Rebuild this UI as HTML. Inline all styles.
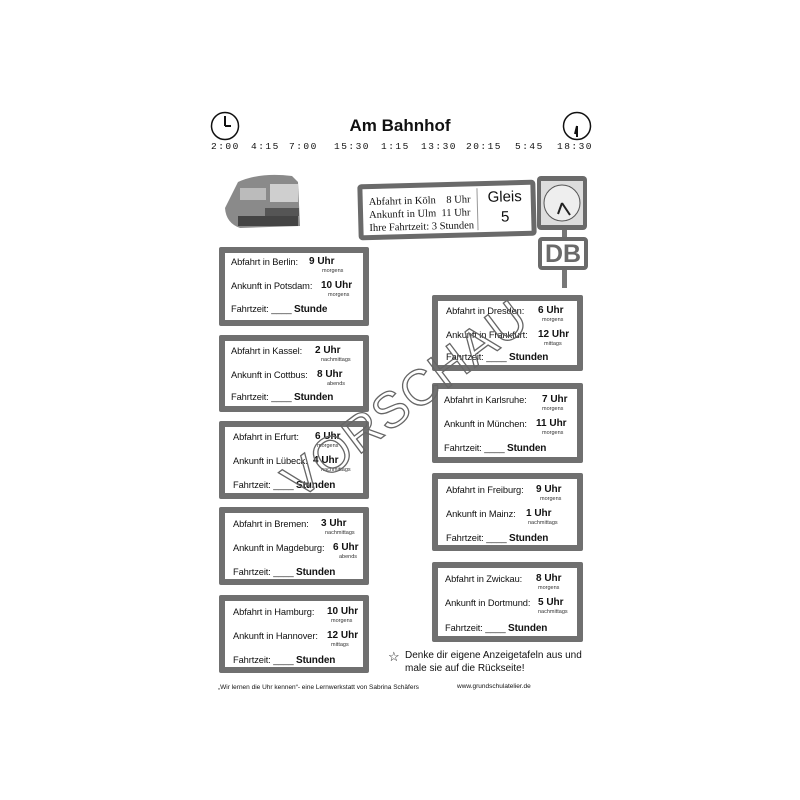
<!DOCTYPE html>
<html><head><meta charset="utf-8"><style>
body{margin:0;width:800px;height:800px;background:#fff;position:relative;overflow:hidden;font-family:"Liberation Sans",sans-serif;color:#111}
.a{position:absolute}
.box{position:absolute;border:6px solid #707070;background:#fff;box-sizing:border-box;border-radius:2px}
.box span{position:absolute;font-size:9.3px;white-space:nowrap;letter-spacing:-0.1px}
.box b{position:absolute;font-size:10px;white-space:nowrap}
.box i{position:absolute;font-size:5.5px;font-style:normal;white-space:nowrap;color:#333}
.t{position:absolute;font-size:9.5px;letter-spacing:1.5px;font-family:"Liberation Mono",monospace}
</style></head><body>

<div class="a" style="left:0;top:116px;width:800px;text-align:center;font-size:17px;font-weight:bold">Am Bahnhof</div>

<svg class="a" style="left:209px;top:110px" width="32" height="32"><circle cx="16" cy="16" r="13.5" fill="#fff" stroke="#111" stroke-width="1.5"/><line x1="16" y1="16" x2="16" y2="6" stroke="#111" stroke-width="2"/><line x1="16" y1="16" x2="22" y2="16" stroke="#111" stroke-width="2"/></svg>
<svg class="a" style="left:561px;top:110px" width="32" height="32"><circle cx="16" cy="16" r="13.5" fill="#fff" stroke="#111" stroke-width="1.5"/><line x1="16" y1="16" x2="16" y2="27" stroke="#111" stroke-width="2"/><line x1="16" y1="16" x2="14" y2="24" stroke="#111" stroke-width="2"/></svg>

<div class="t" style="left:211px;top:141px">2:00</div>
<div class="t" style="left:251px;top:141px">4:15</div>
<div class="t" style="left:289px;top:141px">7:00</div>
<div class="t" style="left:334px;top:141px">15:30</div>
<div class="t" style="left:381px;top:141px">1:15</div>
<div class="t" style="left:421px;top:141px">13:30</div>
<div class="t" style="left:466px;top:141px">20:15</div>
<div class="t" style="left:515px;top:141px">5:45</div>
<div class="t" style="left:557px;top:141px">18:30</div>

<!-- train -->
<svg class="a" style="left:220px;top:168px" width="85" height="65"><path d="M5 40 L18 14 Q40 4 72 8 L78 14 L80 58 L20 60 Q6 55 5 40Z" fill="#8a8a8a"/><rect x="50" y="16" width="28" height="18" fill="#cfcfcf"/><rect x="20" y="20" width="26" height="12" fill="#bbb"/><rect x="45" y="40" width="34" height="8" fill="#555"/><rect x="18" y="48" width="60" height="10" fill="#444"/></svg>

<!-- Gleis sign -->
<div class="a" style="left:358px;top:182px;width:178px;height:56px;background:#6a6a6a;border-radius:4px;transform:rotate(-1.5deg)">
 <div class="a" style="left:5px;top:5px;width:168px;height:46px;background:#fff;font-family:'Liberation Serif',serif;font-size:10.5px;line-height:13px">
  <div class="a" style="left:6px;top:7px;white-space:nowrap">Abfahrt in Köln&nbsp;&nbsp;&nbsp;&nbsp;8 Uhr<br>Ankunft in Ulm&nbsp;&nbsp;11 Uhr<br>Ihre Fahrtzeit: 3 Stunden</div>
  <div class="a" style="left:114px;top:2px;width:1px;height:42px;background:#999"></div>
  <div class="a" style="left:118px;top:2px;width:48px;text-align:center;font-family:'Liberation Sans',sans-serif;font-size:15px;line-height:20px">Gleis<br>5</div>
 </div>
</div>
<!-- clock -->
<div class="a" style="left:562px;top:228px;width:5px;height:60px;background:#777"></div>
<div class="a" style="left:537px;top:176px;width:50px;height:54px;background:#6a6a6a;border-radius:4px"></div>
<svg class="a" style="left:540px;top:180px" width="44" height="46"><rect x="1" y="1" width="42" height="44" fill="#ddd"/><circle cx="22" cy="23" r="18" fill="#eee" stroke="#555"/><line x1="22" y1="23" x2="18" y2="34" stroke="#222" stroke-width="2"/><line x1="22" y1="23" x2="30" y2="35" stroke="#222" stroke-width="2"/></svg>
<div class="a" style="left:538px;top:237px;width:50px;height:33px;background:#fff;border:4px solid #6a6a6a;box-sizing:border-box;border-radius:4px;text-align:center;font-weight:bold;font-size:25px;line-height:26px;color:#6a6a6a">DB</div>

<!-- left boxes -->
<div class="box" style="left:219px;top:247px;width:150px;height:79px"><span style="left:6px;top:4px">Abfahrt in Berlin:</span><b style="left:84px;top:3px">9 Uhr</b><i style="left:97px;top:15px">morgens</i><span style="left:6px;top:28px">Ankunft in Potsdam:</span><b style="left:96px;top:27px">10 Uhr</b><i style="left:103px;top:39px">morgens</i><span style="left:6px;top:51px">Fahrtzeit: ____ <b style="position:static">Stunde</b></span></div>
<div class="box" style="left:219px;top:335px;width:150px;height:77px"><span style="left:6px;top:5px">Abfahrt in Kassel:</span><b style="left:90px;top:4px">2 Uhr</b><i style="left:96px;top:16px">nachmittags</i><span style="left:6px;top:29px">Ankunft in Cottbus:</span><b style="left:92px;top:28px">8 Uhr</b><i style="left:102px;top:40px">abends</i><span style="left:6px;top:51px">Fahrtzeit: ____ <b style="position:static">Stunden</b></span></div>
<div class="box" style="left:219px;top:421px;width:150px;height:78px"><span style="left:8px;top:5px">Abfahrt in Erfurt:</span><b style="left:90px;top:4px">6 Uhr</b><i style="left:92px;top:16px">morgens</i><span style="left:8px;top:29px">Ankunft in Lübeck:</span><b style="left:88px;top:28px">4 Uhr</b><i style="left:96px;top:40px">nachmittags</i><span style="left:8px;top:53px">Fahrtzeit: ____ <b style="position:static">Stunden</b></span></div>
<div class="box" style="left:219px;top:507px;width:150px;height:78px"><span style="left:8px;top:6px">Abfahrt in Bremen:</span><b style="left:96px;top:5px">3 Uhr</b><i style="left:100px;top:17px">nachmittags</i><span style="left:8px;top:30px">Ankunft in Magdeburg:</span><b style="left:108px;top:29px">6 Uhr</b><i style="left:114px;top:41px">abends</i><span style="left:8px;top:54px">Fahrtzeit: ____ <b style="position:static">Stunden</b></span></div>
<div class="box" style="left:219px;top:595px;width:150px;height:78px"><span style="left:8px;top:6px">Abfahrt in Hamburg:</span><b style="left:102px;top:5px">10 Uhr</b><i style="left:106px;top:17px">morgens</i><span style="left:8px;top:30px">Ankunft in Hannover:</span><b style="left:102px;top:29px">12 Uhr</b><i style="left:106px;top:41px">mittags</i><span style="left:8px;top:54px">Fahrtzeit: ____ <b style="position:static">Stunden</b></span></div>

<!-- right boxes -->
<div class="box" style="left:432px;top:295px;width:151px;height:76px"><span style="left:8px;top:5px">Abfahrt in Dresden:</span><b style="left:100px;top:4px">6 Uhr</b><i style="left:104px;top:16px">morgens</i><span style="left:8px;top:29px">Ankunft in Frankfurt:</span><b style="left:100px;top:28px">12 Uhr</b><i style="left:106px;top:40px">mittags</i><span style="left:8px;top:51px">Fahrtzeit: ____ <b style="position:static">Stunden</b></span></div>
<div class="box" style="left:432px;top:383px;width:151px;height:80px"><span style="left:6px;top:6px">Abfahrt in Karlsruhe:</span><b style="left:104px;top:5px">7 Uhr</b><i style="left:104px;top:17px">morgens</i><span style="left:6px;top:30px">Ankunft in München:</span><b style="left:98px;top:29px">11 Uhr</b><i style="left:104px;top:41px">morgens</i><span style="left:6px;top:54px">Fahrtzeit: ____ <b style="position:static">Stunden</b></span></div>
<div class="box" style="left:432px;top:473px;width:151px;height:78px"><span style="left:8px;top:6px">Abfahrt in Freiburg:</span><b style="left:98px;top:5px">9 Uhr</b><i style="left:102px;top:17px">morgens</i><span style="left:8px;top:30px">Ankunft in Mainz:</span><b style="left:88px;top:29px">1 Uhr</b><i style="left:90px;top:41px">nachmittags</i><span style="left:8px;top:54px">Fahrtzeit: ____ <b style="position:static">Stunden</b></span></div>
<div class="box" style="left:432px;top:562px;width:151px;height:80px"><span style="left:7px;top:6px">Abfahrt in Zwickau:</span><b style="left:98px;top:5px">8 Uhr</b><i style="left:100px;top:17px">morgens</i><span style="left:7px;top:30px">Ankunft in Dortmund:</span><b style="left:100px;top:29px">5 Uhr</b><i style="left:100px;top:41px">nachmittags</i><span style="left:7px;top:55px">Fahrtzeit: ____ <b style="position:static">Stunden</b></span></div>

<div class="a" style="left:388px;top:649px;font-size:13px">☆</div>
<div class="a" style="left:405px;top:649px;font-size:10px;line-height:13px">Denke dir eigene Anzeigetafeln aus und<br>male sie auf die Rückseite!</div>
<div class="a" style="left:218px;top:684px;font-size:6.5px">„Wir lernen die Uhr kennen“- eine Lernwerkstatt von Sabrina Schäfers</div>
<div class="a" style="left:457px;top:683px;font-size:6.5px">www.grundschulatelier.de</div>

<div class="a" style="left:240px;top:370px;width:330px;text-align:center;font-size:50px;color:transparent;-webkit-text-stroke:1.3px #666;transform:rotate(-37deg);letter-spacing:1px">VORSCHAU</div>
</body></html>
